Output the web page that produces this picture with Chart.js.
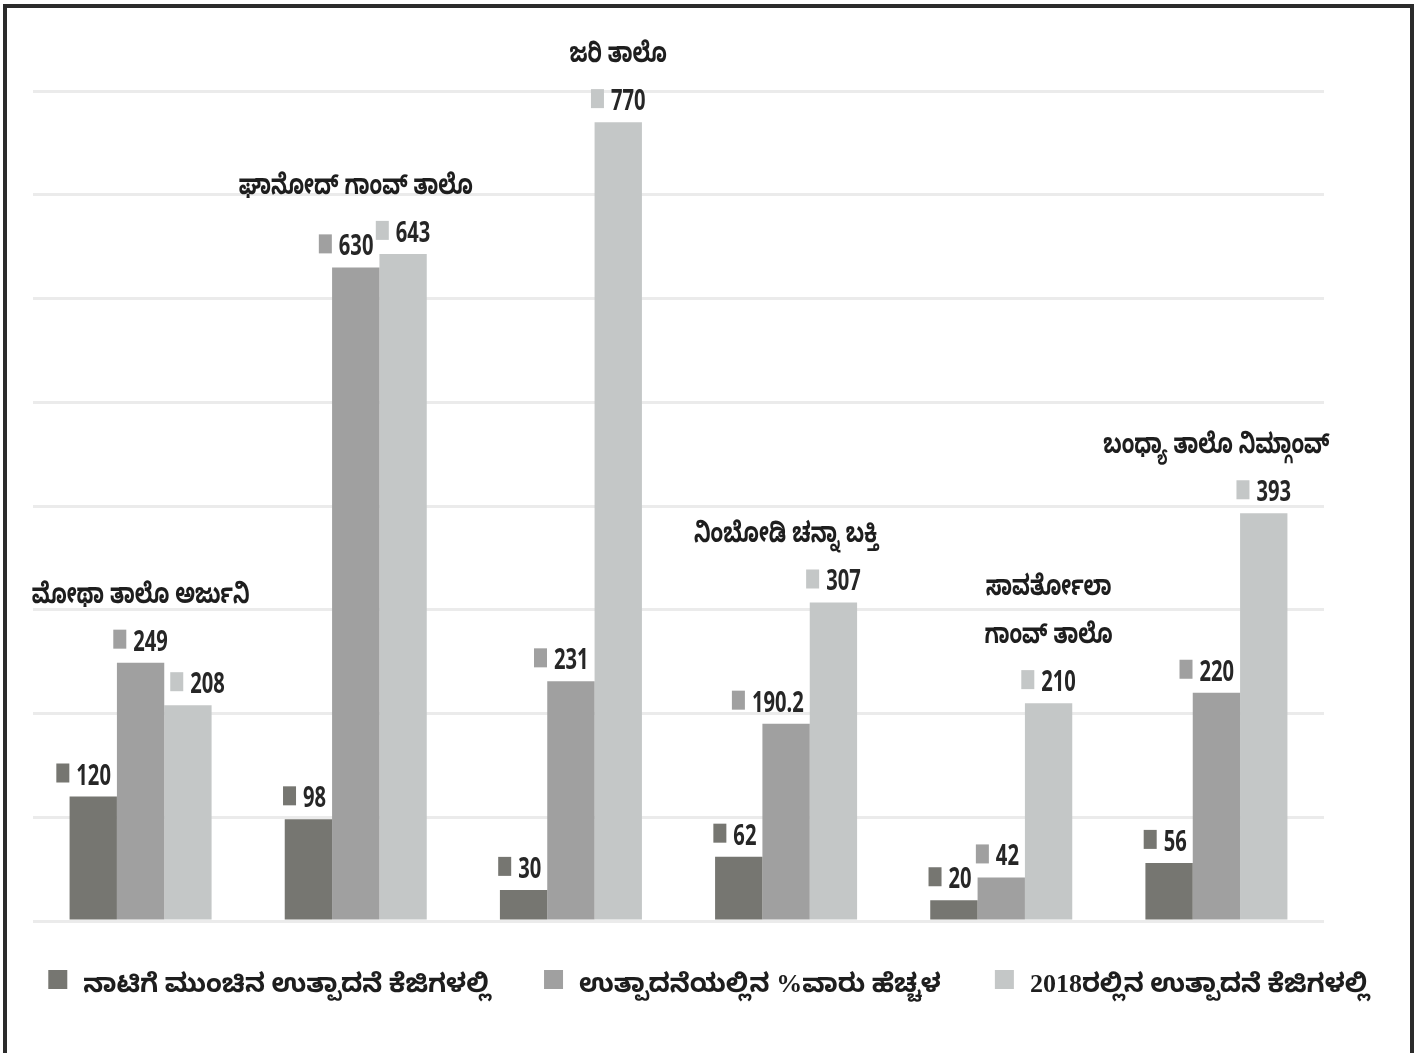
<!DOCTYPE html>
<html>
<head>
<meta charset="utf-8">
<script src="https://cdn.jsdelivr.net/npm/chart.js@4.4.1/dist/chart.umd.min.js"></script>
<style>
  html, body { margin: 0; padding: 0; background: #fff; }
  #wrap { position: relative; width: 1423px; height: 1053px; overflow: hidden; }
  #frame { position: absolute; left: 3px; top: 4px; width: 1403px; height: 1100px;
           border: 4px solid #2b2b2b; border-bottom: none; }
  canvas { position: absolute; left: 0; top: 0; }
</style>
</head>
<body>
<div id="wrap">
  <div id="frame"></div>
  <canvas id="prodChart" width="1423" height="1053"></canvas>
</div>
<script>
// categories (line breaks as arrays)
const categories = [
  'ಮೋಥಾ ತಾಲೊ ಅರ್ಜುನಿ',
  'ಘಾನೋದ್ ಗಾಂವ್ ತಾಲೊ',
  'ಜರಿ ತಾಲೊ',
  'ನಿಂಬೋಡಿ ಚನ್ನಾ ಬಕ್ತಿ',
  ['ಸಾವರ್ತೋಲಾ', 'ಗಾಂವ್ ತಾಲೊ'],
  'ಬಂಧ್ಯಾ ತಾಲೊ ನಿಮ್ಗಾಂವ್'
];
const seriesNames = [
  'ನಾಟಿಗೆ ಮುಂಚಿನ ಉತ್ಪಾದನೆ ಕೆಜಿಗಳಲ್ಲಿ',
  'ಉತ್ಪಾದನೆಯಲ್ಲಿನ %ವಾರು ಹೆಚ್ಚಳ',
  '2018ರಲ್ಲಿನ ಉತ್ಪಾದನೆ ಕೆಜಿಗಳಲ್ಲಿ'
];
const beforePlanting = [120, 98, 30, 62, 20, 56];
const percentIncrease = [249, 630, 231, 190.2, 42, 220];
const production2018 = [208, 643, 770, 307, 210, 393];
// which bar of the group each category title sits over
const titleOverBar = [1, 1, 2, 1, 2, 1];

const colors = ['#767671', '#a0a0a0', '#c4c7c7'];
const knFont = '"Noto Sans Kannada", "Lohit Kannada", "Noto Sans", sans-serif';

// value labels: small colour key + number above each bar (narrowed bold font)
// a label is pushed sideways when a taller neighbour bar would run into it
const valueLabels = {
  id: 'valueLabels',
  afterDatasetsDraw(chart) {
    const ctx = chart.ctx;
    const sx = 0.72, gap = 6;
    const n = chart.data.datasets.length;
    ctx.save();
    ctx.font = 'bold 28px "Open Sans", "DejaVu Sans", sans-serif';
    ctx.textBaseline = 'alphabetic';
    ctx.textAlign = 'left';
    chart.data.datasets.forEach((ds, di) => {
      chart.getDatasetMeta(di).data.forEach((bar, i) => {
        const txt = String(ds.data[i]);
        const tw = ctx.measureText(txt).width * sx;
        const w = 13 + 7 + tw;
        const base = bar.y - 12;
        let left = bar.x - w / 2;
        if (di + 1 < n) {
          const nb = chart.getDatasetMeta(di + 1).data[i];
          if (nb.y < base) left = Math.min(left, nb.x - nb.width / 2 - gap - w);
        }
        if (di > 0) {
          const pb = chart.getDatasetMeta(di - 1).data[i];
          if (pb.y < base) left = Math.max(left, pb.x + pb.width / 2 + gap);
        }
        ctx.fillStyle = ds.backgroundColor;
        ctx.fillRect(left, base - 21, 13, 19);
        ctx.fillStyle = '#262626';
        ctx.save();
        ctx.translate(left + 20, base);
        ctx.scale(sx, 1);
        ctx.fillText(txt, 0, 0);
        ctx.restore();
      });
    });
    ctx.restore();
  }
};

// category titles above each group
const groupTitles = {
  id: 'groupTitles',
  afterDatasetsDraw(chart) {
    const ctx = chart.ctx;
    const sx = 0.74;
    ctx.save();
    ctx.font = 'bold 28px ' + knFont;
    ctx.textAlign = 'center';
    ctx.textBaseline = 'alphabetic';
    ctx.fillStyle = '#1e1e1e';
    chart.data.labels.forEach((lab, i) => {
      let top = Infinity;
      chart.data.datasets.forEach((ds, di) => {
        top = Math.min(top, chart.getDatasetMeta(di).data[i].y);
      });
      const x = chart.getDatasetMeta(titleOverBar[i]).data[i].x;
      const lines = Array.isArray(lab) ? lab : [lab];
      const base = top - 60;
      lines.forEach((ln, k) => {
        ctx.save();
        ctx.translate(x, base - (lines.length - 1 - k) * 48);
        ctx.scale(sx, 1);
        ctx.fillText(ln, 0, 0);
        ctx.restore();
      });
    });
    ctx.restore();
  }
};

// legend row under the plot
const bottomLegend = {
  id: 'bottomLegend',
  afterDraw(chart) {
    const ctx = chart.ctx;
    const box = 19, gapBox = 16, gapItem = 54;
    ctx.save();
    ctx.font = 'bold 26px "Liberation Serif", ' + knFont;
    ctx.textBaseline = 'alphabetic';
    ctx.textAlign = 'left';
    const items = chart.data.datasets.map(ds => ({
      text: ds.label, color: ds.backgroundColor, w: ctx.measureText(ds.label).width
    }));
    const total = items.reduce((s, it) => s + box + gapBox + it.w, 0) + gapItem * (items.length - 1);
    let x = chart.width / 2 - 3 - total / 2;
    const y = chart.chartArea.bottom + 49;
    items.forEach(it => {
      ctx.fillStyle = it.color;
      ctx.fillRect(x, y, box, box);
      ctx.fillStyle = '#1e1e1e';
      ctx.fillText(it.text, x + box + gapBox, y + 22);
      x += box + gapBox + it.w + gapItem;
    });
    ctx.restore();
  }
};

const seriesData = [beforePlanting, percentIncrease, production2018];

new Chart(document.getElementById('prodChart'), {
  type: 'bar',
  data: {
    labels: categories,
    datasets: seriesData.map((d, i) => ({
      label: seriesNames[i],
      data: d,
      backgroundColor: colors[i],
      borderWidth: 0,
      categoryPercentage: 0.66,
      barPercentage: 1.0
    }))
  },
  options: {
    responsive: false,
    animation: false,
    devicePixelRatio: 1,
    layout: { padding: { left: 33, right: 99, top: 91, bottom: 132 } },
    plugins: {
      tooltip: { enabled: false },
      legend: { display: false }
    },
    scales: {
      x: { display: false },
      y: {
        min: 0,
        max: 800,
        ticks: { display: false, stepSize: 100 },
        border: { display: false },
        grid: { color: '#ebebeb', lineWidth: 3, drawTicks: false },
        afterFit(scale) { scale.width = 0; }
      }
    }
  },
  plugins: [valueLabels, groupTitles, bottomLegend]
});
</script>
</body>
</html>
